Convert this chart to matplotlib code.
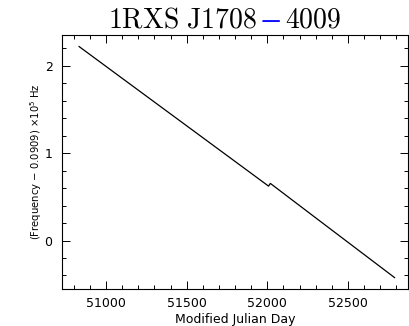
import matplotlib

matplotlib.use("Agg")

import matplotlib.pyplot as plt
import matplotlib.patheffects as pe
from matplotlib.ticker import MultipleLocator

# timing solution, frequency offset in units of 1e-5 Hz
mjd_pre = [50832, 51100, 51400, 51700, 52008]
freq_pre = [2.218, 1.854, 1.447, 1.040, 0.622]
mjd_post = [52019, 52300, 52550, 52790]
freq_post = [0.653, 0.260, -0.089, -0.424]

title_parts = ["1RXS J1708", "\u2212", "4009"]
title_colors = ["black", "blue", "black"]

fig = plt.figure(figsize=(4.10, 3.26), dpi=100)
ax = fig.add_axes([0.152, 0.112, 0.843, 0.782])

ax.plot(mjd_pre + mjd_post, freq_pre + freq_post, color="black", lw=0.9)

ax.set_xlim(50728, 52873)
ax.set_ylim(-0.56, 2.355)
ax.xaxis.set_major_locator(MultipleLocator(500))
ax.xaxis.set_minor_locator(MultipleLocator(100))
ax.yaxis.set_major_locator(MultipleLocator(1))
ax.yaxis.set_minor_locator(MultipleLocator(0.2))
ax.tick_params(which="both", direction="in", top=True, right=True,
               width=0.7, labelsize=9, colors="black")
ax.tick_params(which="major", length=5.8)
ax.tick_params(which="minor", length=2.9)
ax.tick_params(axis="x", pad=5.5)
ax.tick_params(axis="y", pad=7)
for spine in ax.spines.values():
    spine.set_linewidth(0.8)

ax.set_xlabel("Modified Julian Day", fontsize=9, labelpad=2)
ax.set_ylabel(r"(Frequency $-$ 0.0909) $\times$10$^5$ Hz", fontsize=7.2,
              labelpad=0.5)

# title in three pieces so the dash can carry its own colour
plt.rcParams["mathtext.fontset"] = "cm"
fig.canvas.draw()
renderer = fig.canvas.get_renderer()
pieces = []
for txt, col in zip(title_parts, title_colors):
    s = txt.replace(" ", r"\ ").replace("\u2212", "-")
    t = fig.text(0, 0, r"$\mathrm{" + s + "}$", fontsize=20, color=col,
                 va="baseline", ha="left")
    if col == "blue":
        t.set_path_effects([pe.withStroke(linewidth=0.4, foreground="blue")])
    pieces.append(t)
widths = [p.get_window_extent(renderer).width for p in pieces]
gap = 3
total = sum(widths) + gap * (len(pieces) - 1)
x0 = 224.5 - total / 2
base_y = 1 - 28 / 326
for p, w in zip(pieces, widths):
    p.set_position((x0 / 410, base_y))
    x0 += w + gap

fig.savefig("out.png", dpi=100)
